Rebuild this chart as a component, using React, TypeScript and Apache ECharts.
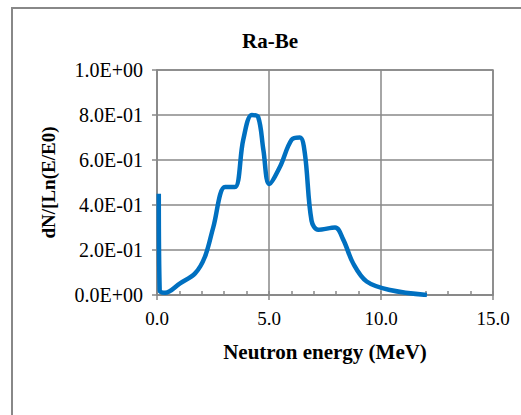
import React, { useEffect, useRef } from "react";
import * as echarts from "echarts";

const energyMeV = [0.08, 0.12, 0.36, 1.03, 1.7, 2.14, 2.51, 3.04, 3.48, 3.85, 4.23, 4.52, 4.75, 5.01, 5.49, 6.01, 6.38, 6.6, 6.9, 7.2, 7.95, 8.32, 8.76, 9.36, 10.4, 12.05];
const dNdLnE = [0.45, 0.02, 0.01, 0.052, 0.096, 0.17, 0.30, 0.48, 0.48, 0.69, 0.80, 0.79, 0.644, 0.493, 0.57, 0.69, 0.70, 0.63, 0.33, 0.29, 0.30, 0.245, 0.14, 0.06, 0.022, 0.0];

const chartTitle = "Ra-Be";
const xName = "Neutron energy (MeV)";
const yName = "dN/[Ln(E/E0)";

function sci(v: number): string {
  if (v === 0) return "0.0E+00";
  const e = Math.floor(Math.log10(Math.abs(v)) + 1e-9);
  const m = v / Math.pow(10, e);
  const sign = e < 0 ? "-" : "+";
  const ae = Math.abs(e);
  return m.toFixed(1) + "E" + sign + (ae < 10 ? "0" : "") + ae;
}

export default function App() {
  const ref = useRef<HTMLDivElement>(null);
  useEffect(() => {
    if (!ref.current) return;
    const chart = echarts.init(ref.current, null, { renderer: "svg" });
    const gray = "#888888";
    const font = "'Liberation Serif', 'Times New Roman', serif";
    chart.setOption({
      animation: false,
      backgroundColor: "#ffffff",
      textStyle: { fontFamily: font },
      grid: {
        left: 157,
        top: 70,
        right: 28,
        bottom: 120,
        show: true,
        borderColor: gray,
        borderWidth: 1.5,
      },
      graphic: [
        {
          type: "rect",
          shape: { x: 12, y: 8, width: 540, height: 440 },
          style: { fill: "none", stroke: gray, lineWidth: 2 },
          silent: true,
        },
        {
          type: "text",
          x: 270,
          y: 41,
          style: {
            text: chartTitle,
            font: "bold 21px " + font,
            fill: "#000",
            textAlign: "center",
            textVerticalAlign: "middle",
          },
        },
      ],
      xAxis: [
        {
          type: "value",
          min: 0,
          max: 15,
          interval: 5,
          position: "bottom",
          name: xName,
          nameLocation: "middle",
          nameGap: 46,
          nameTextStyle: { fontFamily: font, fontSize: 21, fontWeight: "bold", color: "#000" },
          axisLine: { show: true, lineStyle: { color: gray, width: 1.5 } },
          axisTick: { show: true, inside: false, length: 5, lineStyle: { color: gray, width: 1.5 } },
          axisLabel: {
            fontFamily: font,
            fontSize: 19,
            color: "#000",
            margin: 14,
            formatter: (v: number) => v.toFixed(1),
          },
          splitLine: { show: true, lineStyle: { color: gray, width: 1.5 } },
        },
        {
          type: "value",
          min: 0,
          max: 15,
          interval: 1,
          position: "bottom",
          offset: 0,
          axisLine: { show: false },
          axisTick: { show: true, inside: true, length: 4, lineStyle: { color: gray, width: 1.5 } },
          axisLabel: { show: false },
          splitLine: { show: false },
        },
      ],
      yAxis: {
        type: "value",
        min: 0,
        max: 1,
        interval: 0.2,
        name: yName,
        nameLocation: "middle",
        nameGap: 99,
        nameRotate: 90,
        nameTextStyle: { fontFamily: font, fontSize: 19, fontWeight: "bold", color: "#000" },
        axisLine: { show: true, lineStyle: { color: gray, width: 1.5 } },
        axisTick: { show: true, inside: false, length: 5, lineStyle: { color: gray, width: 1.5 } },
        axisLabel: {
          fontFamily: font,
          fontSize: 20,
          color: "#000",
          margin: 14,
          formatter: (v: number) => sci(v),
        },
        splitLine: { show: true, lineStyle: { color: gray, width: 1.5 } },
      },
      series: [
        {
          type: "line",
          xAxisIndex: 0,
          data: energyMeV.map((x, i) => [x, dNdLnE[i]]),
          smooth: 0.35,
          showSymbol: false,
          symbol: "none",
          lineStyle: { color: "#0070C0", width: 4.5 },
          itemStyle: { color: "#0070C0" },
        },
      ],
    });
    return () => chart.dispose();
  }, []);
  return (
    <div
      ref={ref}
      style={{ position: "fixed", left: 0, top: 0, width: 521, height: 415, background: "#fff" }}
    />
  );
}
